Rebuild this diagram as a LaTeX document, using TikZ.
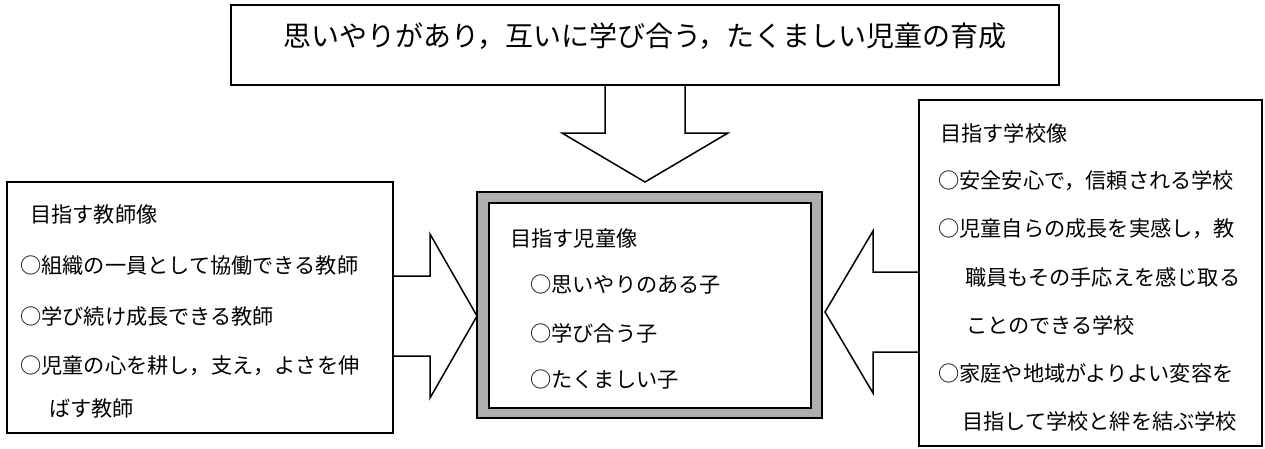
\documentclass[tikz,border=0pt]{standalone}
\usepackage{fontspec}
\newfontfamily\jpfont{Noto Sans CJK JP}
\usetikzlibrary{calc}
\begin{document}
\begin{tikzpicture}[x=1pt,y=-1pt,
  box/.style={draw=black, line width=1.5pt, fill=white, inner sep=0pt, outer sep=0pt, anchor=north west},
  txt/.style={anchor=west, inner sep=0pt, font=\jpfont\fontsize{21.2pt}{22pt}\selectfont},
  titletxt/.style={anchor=center, inner sep=0pt, font=\jpfont\fontsize{28pt}{29pt}\selectfont},
  blockarrow/.style={draw=black, line width=1.5pt, line join=miter}]
\useasboundingbox (0,0) rectangle (1265,448);
\fill[white] (0,0) rectangle (1265,448);

% boxes
\node[box, line width=2pt, minimum width=828pt, minimum height=80pt] (goal) at (231,5) {};
\node[box, minimum width=386pt, minimum height=251pt] (teacher) at (7,182) {};
\node[box, fill={rgb,255:red,175;green,175;blue,175}, minimum width=345pt, minimum height=226pt] (child) at (477,192) {};
\node[box, minimum width=322pt, minimum height=205pt] (childin) at (489,203) {};
\node[box, minimum width=343pt, minimum height=346pt] (school) at (919,100) {};

% title
\node[titletxt] (title) at (645,36) {思いやりがあり，互いに学び合う，たくましい児童の育成};

% teacher text
\node[txt] (tt) at (30,214) {目指す教師像};
\node[txt] (t1) at (20,265) {○組織の一員として協働できる教師};
\node[txt] (t2) at (20,316) {○学び続け成長できる教師};
\node[txt] (t3) at (20,366) {○児童の心を耕し，支え，よさを伸};
\node[txt] (t3b) at (49,408) {ばす教師};

% child text
\node[txt] (ct) at (510,238) {目指す児童像};
\node[txt] (c1) at (530,285) {○思いやりのある子};
\node[txt] (c2) at (530,333) {○学び合う子};
\node[txt] (c3) at (530,380) {○たくましい子};

% school text
\node[txt] (st) at (940,133) {目指す学校像};
\node[txt] (s1) at (938,181) {○安全安心で，信頼される学校};
\node[txt] (s2) at (938,229) {○児童自らの成長を実感し，教};
\node[txt] (s2b) at (965,277) {職員もその手応えを感じ取る};
\node[txt] (s2c) at (966,325) {ことのできる学校};
\node[txt] (s3) at (938,373) {○家庭や地域がよりよい変容を};
\node[txt] (s3b) at (962,421) {目指して学校と絆を結ぶ学校};

% block arrows
\coordinate (dmid) at (goal.south);
\draw[blockarrow] ($(dmid)+(-40,0)$) -- ($(dmid)+(-40,48)$) -- ($(dmid)+(-83,48)$)
  -- ($(dmid)+(0,97)$) -- ($(dmid)+(83,48)$) -- ($(dmid)+(40,48)$) -- ($(dmid)+(40,0)$);

\coordinate (lmid) at ($(teacher.north east)+(0,134)$);
\draw[blockarrow] ($(lmid)+(0,-40)$) -- ($(lmid)+(37,-40)$) -- ($(lmid)+(37,-82)$)
  -- ($(lmid)+(84,0)$) -- ($(lmid)+(37,82)$) -- ($(lmid)+(37,40)$) -- ($(lmid)+(0,40)$);

\coordinate (rmid) at ($(school.north west)+(0,212)$);
\draw[blockarrow] ($(rmid)+(0,-40)$) -- ($(rmid)+(-46,-40)$) -- ($(rmid)+(-46,-81)$)
  -- ($(rmid)+(-94,0)$) -- ($(rmid)+(-46,81)$) -- ($(rmid)+(-46,40)$) -- ($(rmid)+(0,40)$);
\end{tikzpicture}
\end{document}
